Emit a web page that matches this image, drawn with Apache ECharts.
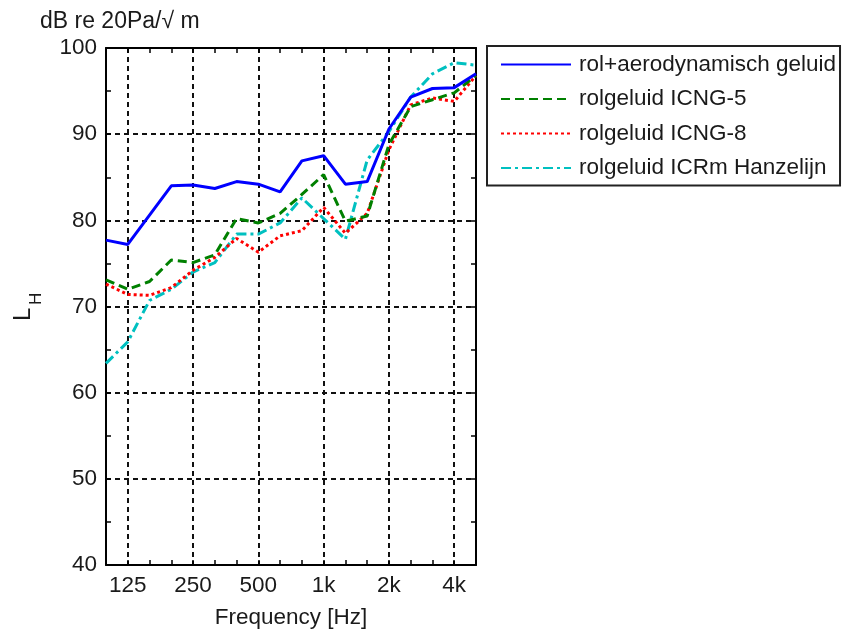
<!DOCTYPE html>
<html>
<head>
<meta charset="utf-8">
<script src="https://cdn.jsdelivr.net/npm/echarts@6/dist/echarts.min.js"></script>
<style>
  html, body { margin: 0; padding: 0; background: #fff; }
  #chart { width: 843px; height: 634px; }
</style>
</head>
<body>
<div id="chart"></div>
<script>
// 1/3-octave band centre frequencies (Hz)
const bands = ['100','125','160','200','250','315','400','500','630','800','1000','1250','1600','2000','2500','3150','4000','5000'];
// Bands that get a tick label and a vertical grid line
const labelledBands = { '125': '125', '250': '250', '500': '500', '1000': '1k', '2000': '2k', '4000': '4k' };

// Levels L_H in dB re 20 µPa/√m per band
const rolAero   = [77.7, 77.2, 80.6, 84.0, 84.1, 83.7, 84.5, 84.2, 83.3, 86.9, 87.5, 84.2, 84.5, 90.6, 94.3, 95.3, 95.4, 97.0];
const icng5     = [73.1, 72.0, 72.9, 75.4, 75.1, 76.0, 80.2, 79.7, 80.8, 83.0, 85.3, 79.9, 80.5, 88.8, 93.2, 94.0, 94.8, 96.8];
const icng8     = [72.6, 71.4, 71.3, 72.2, 74.2, 75.7, 77.9, 76.3, 78.2, 78.8, 81.5, 78.5, 80.8, 88.2, 93.4, 94.2, 93.8, 96.8];
const icrm      = [63.4, 65.9, 70.7, 72.0, 74.0, 75.1, 78.4, 78.4, 79.7, 82.6, 80.2, 77.8, 87.0, 90.3, 94.3, 97.0, 98.3, 98.0];

const seriesNames = ['rol+aerodynamisch geluid', 'rolgeluid ICNG-5', 'rolgeluid ICNG-8', 'rolgeluid ICRm Hanzelijn'];

const FONT = '"Liberation Sans", Arial, sans-serif';
const TEXT = '#1a1a1a';

const chart = echarts.init(document.getElementById('chart'), null, { renderer: 'canvas' });

const gridDash = { color: '#111', width: 2, type: [5, 4] };
const frame = { show: true, onZero: false, lineStyle: { color: '#000', width: 2 } };
const isLabelled = (idx, val) => Object.prototype.hasOwnProperty.call(labelledBands, val);

const option = {
  animation: false,
  backgroundColor: '#fff',
  textStyle: { fontFamily: FONT, color: TEXT },
  graphic: [
    { type: 'text', left: 40, top: 10, style: { text: 'dB re 20Pa/\u221A m', font: '23px ' + FONT, fill: TEXT } },
    { type: 'text', x: 35, y: 321, rotation: Math.PI / 2,
      style: { text: 'L', font: '24px ' + FONT, fill: TEXT, textVerticalAlign: 'bottom' } },
    { type: 'text', x: 45, y: 305, rotation: Math.PI / 2,
      style: { text: 'H', font: '17px ' + FONT, fill: TEXT, textVerticalAlign: 'bottom' } }
  ],
  grid: { left: 106, right: 367, top: 48, bottom: 66, containLabel: false },
  legend: {
    orient: 'vertical',
    left: 487, top: 46,
    padding: [7, 4, 6, 13],
    borderColor: '#222', borderWidth: 2,
    itemWidth: 70, itemHeight: 20, itemGap: 11.5,
    itemStyle: { opacity: 0 },
    textStyle: { fontSize: 22.5, fontFamily: FONT, color: TEXT, lineHeight: 20, padding: [0, 0, 0, 3] },
    data: seriesNames
  },
  xAxis: [
    {
      type: 'category', data: bands, boundaryGap: false, position: 'bottom',
      axisLine: frame,
      axisTick: { show: true, inside: true, length: 5, interval: 0, lineStyle: { color: '#000', width: 1.5 } },
      axisLabel: {
        interval: isLabelled, formatter: v => labelledBands[v] || '',
        fontSize: 22.5, fontFamily: FONT, color: TEXT, margin: 9
      },
      splitLine: { show: true, interval: isLabelled, lineStyle: gridDash },
      name: 'Frequency [Hz]', nameLocation: 'middle', nameGap: 41,
      nameTextStyle: { fontSize: 22.5, fontFamily: FONT, color: TEXT }
    },
    {
      type: 'category', data: bands, boundaryGap: false, position: 'top',
      axisLine: frame,
      axisTick: { show: true, inside: true, length: 5, interval: 0, lineStyle: { color: '#000', width: 1.5 } },
      axisLabel: { show: false },
      splitLine: { show: false }
    }
  ],
  yAxis: [
    {
      type: 'value', min: 40, max: 100, interval: 10, position: 'left',
      axisLine: frame,
      axisTick: { show: true, inside: true, length: 5, lineStyle: { color: '#000', width: 1.5 } },
      minorTick: { show: true, splitNumber: 2, length: 5, lineStyle: { color: '#000', width: 1.5 } },
      axisLabel: { fontSize: 22.5, fontFamily: FONT, color: TEXT, margin: 9 },
      splitLine: { show: true, lineStyle: gridDash }
    },
    {
      type: 'value', min: 40, max: 100, interval: 10, position: 'right',
      axisLine: frame,
      axisTick: { show: true, inside: true, length: 5, lineStyle: { color: '#000', width: 1.5 } },
      minorTick: { show: true, splitNumber: 2, length: 5, lineStyle: { color: '#000', width: 1.5 } },
      axisLabel: { show: false },
      splitLine: { show: false }
    }
  ],
  series: [
    { name: seriesNames[0], type: 'line', data: rolAero, symbol: 'none', z: 5,
      lineStyle: { color: '#0000ff', width: 3, type: 'solid' }, itemStyle: { color: '#0000ff' } },
    { name: seriesNames[1], type: 'line', data: icng5, symbol: 'none', z: 4,
      lineStyle: { color: '#008000', width: 3, type: [9, 5] }, itemStyle: { color: '#008000' } },
    { name: seriesNames[2], type: 'line', data: icng8, symbol: 'none', z: 3,
      lineStyle: { color: '#ff0000', width: 3, type: [3, 3] }, itemStyle: { color: '#ff0000' } },
    { name: seriesNames[3], type: 'line', data: icrm, symbol: 'none', z: 2,
      lineStyle: { color: '#00c0c0', width: 3, type: [10, 4, 3, 4] }, itemStyle: { color: '#00c0c0' } }
  ]
};

chart.setOption(option);
</script>
</body>
</html>
